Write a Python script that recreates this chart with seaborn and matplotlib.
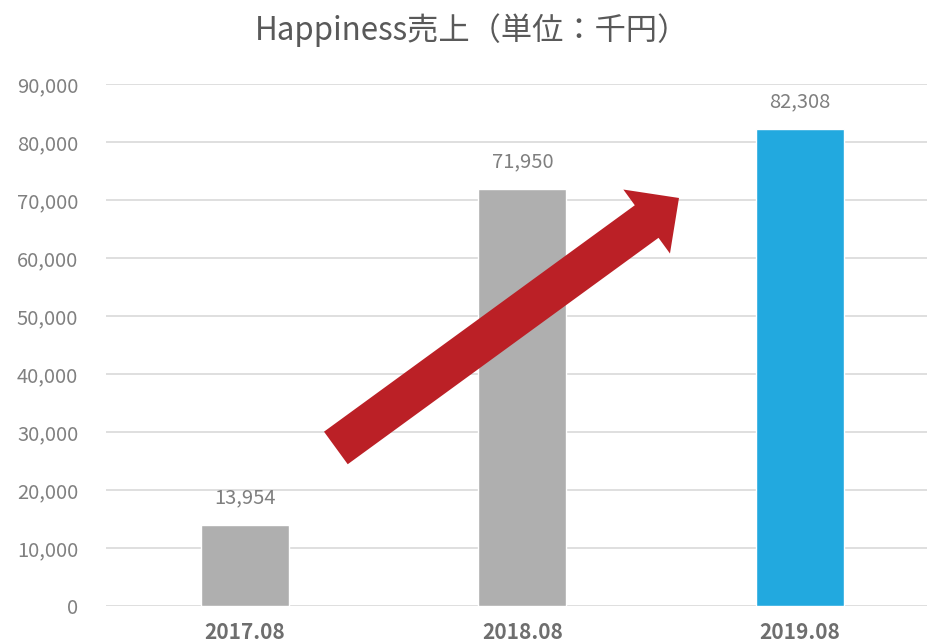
"""Happiness sales bar chart (thousand yen)."""
import matplotlib
matplotlib.use("Agg")
import matplotlib.pyplot as plt
from matplotlib.patches import ArrowStyle
from matplotlib.ticker import FuncFormatter
import pandas as pd
import seaborn as sns

# ---- data ----
periods = ["2017.08", "2018.08", "2019.08"]
sales = [13954, 71950, 82308]
bar_colors = ["#AFAFAF", "#AFAFAF", "#22A9DF"]
title = "Happiness売上（単位：千円）"

# arrow (data coords): tail -> tip
arrow_tail = (0.328, 27300)
arrow_tip = (1.564, 70400)

sns.set_theme(style="white")
plt.rcParams["font.family"] = ["Noto Sans CJK JP", "DejaVu Sans"]

W, H, DPI = 928, 642, 100
fig = plt.figure(figsize=(W / DPI, H / DPI), dpi=DPI)
ax = fig.add_axes([106 / W, 1 - 606.3 / H, (W - 106) / W, (606.3 - 84.3) / H])

df = pd.DataFrame({"period": periods, "sales": sales})
sns.barplot(data=df, x="period", y="sales", hue="period", palette=bar_colors,
            legend=False, width=0.317, saturation=1, ax=ax, zorder=2)

ax.set_ylim(0, 90000)
ax.set_xlim(-0.5, 2.461)
ax.set_yticks(range(0, 90001, 10000))
ax.yaxis.set_major_formatter(FuncFormatter(lambda v, _: f"{int(v):,}"))
ax.grid(axis="y", color="#D9D9D9", lw=1.2, zorder=0)
ax.set_axisbelow(True)
for s in ax.spines.values():
    s.set_visible(False)
ax.set_xlabel(""); ax.set_ylabel("")
ax.tick_params(axis="y", length=0, pad=20, labelsize=14.5, labelcolor="#808080")
ax.tick_params(axis="x", length=0, pad=11, labelsize=15, labelcolor="#6E6E6E")
for lab in ax.get_xticklabels():
    lab.set_fontweight("bold")

for i, v in enumerate(sales):
    ax.annotate(f"{v:,}", (i, v), xytext=(0, 12), textcoords="offset points",
                ha="center", va="bottom", fontsize=14.5, color="#7F7F7F")

ax.annotate("", xy=arrow_tip, xytext=arrow_tail,
            arrowprops=dict(arrowstyle=ArrowStyle.Simple(head_length=28.8,
                                                         head_width=57, tail_width=29),
                            mutation_scale=1, color="#BB2026", lw=0,
                            shrinkA=0, shrinkB=0), zorder=3)

fig.text(472 / W, 1 - 40 / H, title, ha="center", va="baseline",
         fontsize=22.5, color="#595959")

fig.savefig("out.png", dpi=DPI)
